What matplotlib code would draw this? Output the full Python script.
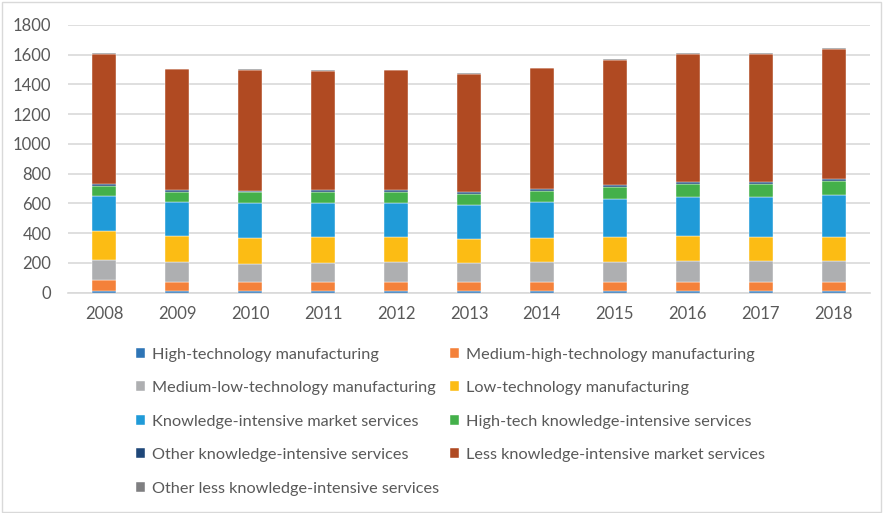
import matplotlib.pyplot as plt
from matplotlib.patches import Rectangle
import numpy as np

plt.rcParams['font.family'] = ['Lato', 'DejaVu Sans']

##### data #####
years = ['2008', '2009', '2010', '2011', '2012', '2013', '2014', '2015', '2016', '2017', '2018']

high_tech_manuf = [13, 11, 11, 11, 11, 11, 11, 11, 11, 11, 11]
med_high_manuf = [70, 61, 63, 61, 61, 59, 61, 61, 61, 61, 61]
med_low_manuf = [135, 131, 120, 128, 131, 128, 131, 135, 140, 140, 140]
low_tech_manuf = [196, 178, 173, 172, 169, 164, 164, 169, 169, 164, 162]
kis_market = [232, 227, 233, 230, 230, 228, 239, 250, 259, 264, 279]
kis_high_tech = [73, 68, 74, 74, 76, 74, 79, 86, 92, 92, 99]
kis_other = [13, 14, 12, 14, 14, 14, 14, 11, 10, 10, 11]
lkis_market = [873, 813, 811, 800, 802, 792, 811, 843, 865, 865, 878]
lkis_other = [4, 4, 4, 4, 4, 4, 4, 4, 4, 4, 4]

series = [
    ('High-technology manufacturing', high_tech_manuf, '#2E75B6'),
    ('Medium-high-technology manufacturing', med_high_manuf, '#F4813A'),
    ('Medium-low-technology manufacturing', med_low_manuf, '#AEAFB1'),
    ('Low-technology manufacturing', low_tech_manuf, '#FCBC14'),
    ('Knowledge-intensive market services', kis_market, '#209BD8'),
    ('High-tech knowledge-intensive services', kis_high_tech, '#44B04A'),
    ('Other knowledge-intensive services', kis_other, '#1F4779'),
    ('Less knowledge-intensive market services', lkis_market, '#B04A22'),
    ('Other less knowledge-intensive services', lkis_other, '#7F7F81'),
]

##### plot #####
fig = plt.figure(figsize=(8.83, 5.13), dpi=100)
ax = fig.add_axes([68 / 883, 1 - 292.5 / 513, 802 / 883, 267.5 / 513])

x = np.arange(len(years))
bottom = np.zeros(len(years))
handles = []
for label, vals, color in series:
    b = ax.bar(x, vals, width=0.33, bottom=bottom, color=color, label=label,
               edgecolor='white', linewidth=0.3, zorder=3)
    handles.append(b)
    bottom += np.array(vals)

ax.set_xlim(-0.5, len(years) - 0.5)
ax.set_ylim(0, 1800)
ax.set_yticks(np.arange(0, 1801, 200))
ax.set_xticks(x)
ax.set_xticklabels(years)
ax.yaxis.grid(True, color='#D9D9D9', linewidth=1.2, zorder=0)
for s in ['top', 'right', 'left']:
    ax.spines[s].set_visible(False)
ax.spines['bottom'].set_color('#D9D9D9')
ax.spines['bottom'].set_linewidth(1.2)
ax.tick_params(axis='both', length=0, labelsize=12, labelcolor='#595959')
ax.tick_params(axis='x', pad=10)
ax.tick_params(axis='y', pad=12)

# legend, two columns filled row by row
order = [0, 2, 4, 6, 8, 1, 3, 5, 7]
leg = fig.legend([handles[i] for i in order], [series[i][0] for i in order],
                 ncol=2, loc='upper left', bbox_to_anchor=(121 / 883, 1 - 333 / 513),
                 frameon=False, fontsize=11.7, labelcolor='#595959',
                 handlelength=0.55, handleheight=0.55, handletextpad=0.45,
                 labelspacing=1.2, columnspacing=0.65)

# chart border
fig.patches.append(Rectangle((0.002, 0.002), 0.996, 0.994, transform=fig.transFigure,
                             fill=False, edgecolor='#D9D9D9', linewidth=1))

fig.savefig('out.png', dpi=100)
